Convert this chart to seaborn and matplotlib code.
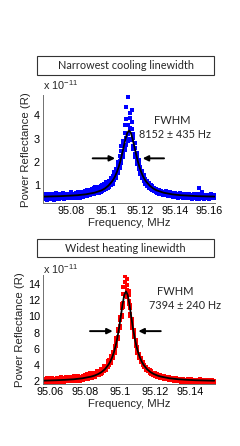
import matplotlib
matplotlib.use("Agg")
import matplotlib.pyplot as plt
import matplotlib.patches as mp
import pandas as pd
import seaborn as sns

# ---------------------------------------------------------------
# data (reflectance in units of 1e-11)
top_freq = [95.063, 95.064, 95.065, 95.066, 95.067, 95.068, 95.069, 95.070, 95.071, 95.072,
            95.073, 95.074, 95.075, 95.076, 95.077, 95.078, 95.079, 95.080, 95.081, 95.082,
            95.083, 95.084, 95.085, 95.086, 95.087, 95.088, 95.089, 95.090, 95.091, 95.092,
            95.093, 95.094, 95.095, 95.096, 95.097, 95.098, 95.099, 95.100, 95.101, 95.102,
            95.103, 95.104, 95.105, 95.106, 95.107, 95.108, 95.109, 95.110, 95.111, 95.112,
            95.113, 95.114, 95.115, 95.116, 95.117, 95.118, 95.119, 95.120, 95.121, 95.122,
            95.123, 95.124, 95.125, 95.126, 95.127, 95.128, 95.129, 95.130, 95.131, 95.132,
            95.133, 95.134, 95.135, 95.136, 95.137, 95.138, 95.139, 95.140, 95.141, 95.142,
            95.143, 95.144, 95.145, 95.146, 95.147, 95.148, 95.149, 95.150, 95.151, 95.152,
            95.153, 95.154, 95.155, 95.156, 95.157, 95.158, 95.159, 95.160, 95.161, 95.162,
            95.163]
top_refl = [
    [0.42, 0.55, 0.61, 0.47], [0.58, 0.44, 0.50, 0.39], [0.47, 0.63, 0.53, 0.41], [0.52, 0.45, 0.60, 0.36],
    [0.49, 0.57, 0.43, 0.64], [0.55, 0.40, 0.48, 0.59], [0.44, 0.62, 0.51, 0.46], [0.57, 0.50, 0.38, 0.53],
    [0.48, 0.66, 0.45, 0.55], [0.61, 0.42, 0.52, 0.47], [0.50, 0.58, 0.41, 0.63], [0.45, 0.54, 0.60, 0.49],
    [0.56, 0.43, 0.51, 0.67], [0.47, 0.59, 0.52, 0.40], [0.62, 0.49, 0.55, 0.44], [0.51, 0.64, 0.46, 0.57],
    [0.58, 0.45, 0.61, 0.50], [0.48, 0.56, 0.69, 0.43], [0.60, 0.52, 0.47, 0.58], [0.45, 0.63, 0.54, 0.50],
    [0.59, 0.48, 0.66, 0.53], [0.52, 0.70, 0.47, 0.61], [0.63, 0.50, 0.57, 0.46], [0.55, 0.67, 0.49, 0.72],
    [0.60, 0.51, 0.68, 0.56], [0.53, 0.74, 0.62, 0.57], [0.66, 0.55, 0.78, 0.60], [0.58, 0.70, 0.64, 0.81],
    [0.69, 0.57, 0.76, 0.62], [0.61, 0.84, 0.68, 0.73], [0.75, 0.62, 0.88, 0.70], [0.66, 0.80, 0.73, 0.93],
    [0.78, 0.65, 0.86, 0.72], [0.70, 0.91, 0.79, 0.66], [0.83, 0.72, 0.97, 0.79], [0.76, 0.93, 0.84, 1.02],
    [0.90, 0.78, 1.05, 0.86], [0.84, 1.01, 0.93, 1.12], [1.03, 0.88, 1.15, 0.97], [0.94, 1.20, 1.06, 0.99],
    [1.18, 1.02, 1.31, 1.09], [1.12, 1.38, 1.25, 1.05], [1.45, 1.24, 1.58, 1.30], [1.39, 1.70, 1.55, 1.32],
    [1.85, 1.60, 2.02, 1.53], [1.80, 2.25, 2.05, 1.72], [2.48, 2.10, 2.70, 1.95], [2.35, 2.90, 2.75, 2.20],
    [3.25, 2.70, 3.60, 2.50], [3.05, 3.85, 4.35, 2.75], [3.60, 4.80, 3.20, 2.90], [4.10, 3.45, 3.00, 3.90],
    [3.70, 2.95, 3.40, 4.25], [2.70, 3.20, 2.55, 3.05], [2.80, 2.35, 2.60, 2.20], [2.05, 2.40, 2.25, 1.90],
    [2.10, 1.80, 1.95, 1.70], [1.55, 1.80, 1.62, 1.48], [1.60, 1.38, 1.52, 1.30], [1.25, 1.42, 1.20, 1.36],
    [1.28, 1.12, 1.22, 1.05], [1.02, 1.15, 0.98, 1.20], [1.08, 0.93, 1.04, 0.88], [0.88, 1.00, 0.92, 0.83],
    [0.95, 0.82, 0.90, 0.78], [0.79, 0.88, 0.74, 0.85], [0.84, 0.72, 0.81, 0.70], [0.71, 0.80, 0.68, 0.76],
    [0.78, 0.66, 0.73, 0.64], [0.67, 0.75, 0.62, 0.70], [0.72, 0.60, 0.68, 0.58], [0.63, 0.71, 0.57, 0.66],
    [0.69, 0.56, 0.64, 0.74], [0.58, 0.67, 0.53, 0.62], [0.66, 0.55, 0.71, 0.60], [0.57, 0.64, 0.52, 0.68],
    [0.63, 0.54, 0.60, 0.49], [0.55, 0.66, 0.51, 0.59], [0.61, 0.48, 0.57, 0.64], [0.52, 0.62, 0.46, 0.56],
    [0.60, 0.50, 0.65, 0.54], [0.49, 0.58, 0.53, 0.62], [0.56, 0.45, 0.60, 0.51], [0.47, 0.61, 0.54, 0.43],
    [0.59, 0.50, 0.57, 0.64], [0.52, 0.44, 0.62, 0.48], [0.57, 0.49, 0.43, 0.60], [0.46, 0.58, 0.52, 0.41],
    [0.61, 0.47, 0.55, 0.50], [0.44, 0.53, 0.59, 0.48], [0.56, 0.42, 0.51, 0.62], [0.49, 0.88, 0.40, 0.54],
    [0.52, 0.44, 0.61, 0.47], [0.58, 0.50, 0.45, 0.73], [0.46, 0.55, 0.51, 0.40], [0.53, 0.43, 0.58, 0.49],
    [0.50, 0.60, 0.44, 0.55], [0.41, 0.52, 0.57, 0.47], [0.55, 0.48, 0.62, 0.43], [0.47, 0.59, 0.51, 0.45],
    [0.52, 0.44, 0.56, 0.49]]

top_fit_freq = [95.0635, 95.0685, 95.0735, 95.0785, 95.0835, 95.0885, 95.0935, 95.0955, 95.0975, 95.0995,
                95.1015, 95.1035, 95.1045, 95.1055, 95.1065, 95.1075, 95.1085, 95.1095, 95.1105, 95.1115,
                95.1125, 95.1135, 95.1145, 95.1155, 95.1165, 95.1175, 95.1185, 95.1195, 95.1205, 95.1215,
                95.1225, 95.1235, 95.1255, 95.1275, 95.1295, 95.1315, 95.1335, 95.1385, 95.1435, 95.1485,
                95.1535, 95.1585, 95.1635]
top_fit_refl = [0.51, 0.52, 0.53, 0.55, 0.57, 0.61, 0.68, 0.73, 0.78, 0.86,
                0.98, 1.15, 1.26, 1.40, 1.58, 1.79, 2.05, 2.36, 2.69, 3.01,
                3.26, 3.35, 3.26, 3.01, 2.69, 2.36, 2.05, 1.79, 1.58, 1.40,
                1.26, 1.15, 0.98, 0.86, 0.78, 0.73, 0.68, 0.61, 0.57, 0.55,
                0.53, 0.52, 0.51]

bot_freq = [95.056, 95.057, 95.058, 95.059, 95.060, 95.061, 95.062, 95.063, 95.064, 95.065,
            95.066, 95.067, 95.068, 95.069, 95.070, 95.071, 95.072, 95.073, 95.074, 95.075,
            95.076, 95.077, 95.078, 95.079, 95.080, 95.081, 95.082, 95.083, 95.084, 95.085,
            95.086, 95.087, 95.088, 95.089, 95.090, 95.091, 95.092, 95.093, 95.094, 95.095,
            95.096, 95.097, 95.098, 95.099, 95.100, 95.101, 95.102, 95.103, 95.104, 95.105,
            95.106, 95.107, 95.108, 95.109, 95.110, 95.111, 95.112, 95.113, 95.114, 95.115,
            95.116, 95.117, 95.118, 95.119, 95.120, 95.121, 95.122, 95.123, 95.124, 95.125,
            95.126, 95.127, 95.128, 95.129, 95.130, 95.131, 95.132, 95.133, 95.134, 95.135,
            95.136, 95.137, 95.138, 95.139, 95.140, 95.141, 95.142, 95.143, 95.144, 95.145,
            95.146, 95.147, 95.148, 95.149, 95.150, 95.151, 95.152, 95.153, 95.154]
bot_refl = [
    [1.85, 2.20, 1.98, 2.32], [2.10, 1.78, 2.25, 1.95], [1.92, 2.35, 2.05, 1.72], [2.22, 1.88, 2.12, 2.40],
    [1.80, 2.08, 1.95, 2.28], [2.15, 1.90, 2.38, 2.02], [1.96, 2.26, 1.83, 2.10], [2.30, 2.00, 2.18, 1.86],
    [2.05, 2.42, 1.94, 2.21], [1.89, 2.15, 2.33, 2.02], [2.24, 1.97, 2.09, 2.45], [2.01, 2.30, 1.88, 2.16],
    [2.36, 2.07, 2.22, 1.93], [2.12, 2.48, 2.00, 2.27], [1.98, 2.20, 2.41, 2.09], [2.31, 2.03, 2.17, 2.55],
    [2.08, 2.39, 1.96, 2.24], [2.45, 2.14, 2.30, 2.02], [2.19, 2.58, 2.08, 2.36], [2.06, 2.29, 2.50, 2.18],
    [2.40, 2.12, 2.27, 2.66], [2.17, 2.49, 2.05, 2.33], [2.56, 2.22, 2.41, 2.15], [2.28, 2.68, 2.19, 2.47],
    [2.21, 2.43, 2.72, 2.33], [2.62, 2.30, 2.51, 2.85], [2.39, 2.70, 2.27, 2.57], [2.74, 2.41, 2.60, 2.95],
    [2.50, 2.82, 2.44, 2.68], [2.88, 2.52, 2.73, 3.05], [2.62, 2.95, 2.80, 2.55], [3.05, 2.70, 2.90, 3.25],
    [2.82, 3.15, 2.98, 2.75], [3.30, 2.92, 3.12, 3.50], [3.08, 3.45, 3.28, 3.00], [3.65, 3.22, 3.48, 3.90],
    [3.45, 3.85, 3.70, 3.35], [4.20, 3.70, 4.00, 4.45], [4.05, 4.60, 4.35, 3.95], [5.05, 4.45, 4.80, 4.30],
    [5.00, 5.60, 5.30, 4.85], [6.35, 5.60, 6.10, 5.50], [6.50, 7.30, 6.95, 6.30], [8.50, 7.50, 8.20, 7.20],
    [8.80, 9.90, 9.50, 8.60], [11.50, 10.20, 11.10, 9.90], [12.80, 11.60, 13.60, 11.20], [14.30, 12.50, 13.70, 15.00],
    [13.30, 14.60, 12.40, 13.90], [12.70, 11.50, 13.20, 11.90], [10.30, 11.40, 10.00, 11.00], [9.70, 8.90, 9.40, 8.60],
    [7.60, 8.30, 7.40, 8.00], [7.10, 6.50, 6.90, 6.30], [5.70, 6.20, 5.50, 6.00], [5.40, 4.95, 5.25, 4.85],
    [4.50, 4.85, 4.40, 4.75], [4.40, 4.05, 4.30, 3.95], [3.75, 4.05, 3.70, 3.95], [3.80, 3.45, 3.65, 3.35],
    [3.25, 3.55, 3.20, 3.45], [3.35, 3.05, 3.28, 3.00], [2.95, 3.20, 2.88, 3.12], [3.05, 2.80, 2.98, 2.75],
    [2.70, 2.95, 2.65, 2.88], [2.85, 2.60, 2.80, 2.55], [2.55, 2.78, 2.50, 2.72], [2.70, 2.45, 2.65, 2.42],
    [2.42, 2.64, 2.38, 2.58], [2.60, 2.36, 2.55, 2.31], [2.33, 2.52, 2.28, 2.49], [2.50, 2.29, 2.46, 2.22],
    [2.26, 2.48, 2.20, 2.42], [2.44, 2.18, 2.39, 2.14], [2.21, 2.41, 2.12, 2.35], [2.38, 2.10, 2.30, 2.06],
    [2.15, 2.35, 2.05, 2.28], [2.30, 2.04, 2.24, 1.98], [2.09, 2.31, 1.97, 2.20], [2.26, 1.99, 2.18, 1.92],
    [2.03, 2.24, 1.90, 2.15], [2.20, 1.94, 2.12, 1.86], [1.98, 2.18, 1.85, 2.09], [2.14, 1.89, 2.06, 2.27],
    [1.93, 2.12, 1.82, 2.03], [2.10, 1.87, 2.22, 1.96], [1.88, 2.06, 1.79, 2.16], [2.05, 1.84, 2.00, 2.19],
    [1.90, 2.13, 1.81, 2.02], [2.08, 1.86, 2.17, 1.95], [1.84, 2.03, 1.92, 2.21], [2.11, 1.89, 1.99, 1.78],
    [1.93, 2.15, 1.83, 2.04], [2.07, 1.80, 2.12, 1.91], [1.86, 2.01, 1.94, 2.18], [2.09, 1.85, 2.03, 1.76],
    [1.91, 2.14, 1.82, 2.00], [2.04, 1.88, 2.10, 1.93], [1.87, 2.06, 1.96, 1.79]]

bot_fit_freq = [95.056, 95.0635, 95.0685, 95.0735, 95.0785, 95.0835, 95.0855, 95.0875, 95.0895, 95.0915,
                95.0935, 95.0945, 95.0955, 95.0965, 95.0975, 95.0985, 95.0995, 95.1005, 95.1015, 95.1025,
                95.1035, 95.1045, 95.1055, 95.1065, 95.1075, 95.1085, 95.1095, 95.1105, 95.1115, 95.1125,
                95.1135, 95.1155, 95.1175, 95.1195, 95.1215, 95.1235, 95.1285, 95.1335, 95.1385, 95.1435,
                95.154]
bot_fit_refl = [2.06, 2.11, 2.16, 2.23, 2.35, 2.56, 2.69, 2.87, 3.12, 3.49,
                4.04, 4.42, 4.90, 5.52, 6.30, 7.30, 8.53, 9.97, 11.45, 12.64,
                13.10, 12.64, 11.45, 9.97, 8.53, 7.30, 6.30, 5.52, 4.90, 4.42,
                4.04, 3.49, 3.12, 2.87, 2.69, 2.56, 2.35, 2.23, 2.16, 2.11,
                2.05]

top_title = "Narrowest cooling linewidth"
bot_title = "Widest heating linewidth"
top_fwhm = "8152 ± 435 Hz"
bot_fwhm = "7394 ± 240 Hz"
top_xticks = [95.08, 95.1, 95.12, 95.14, 95.16]
bot_xticks = [95.06, 95.08, 95.1, 95.12, 95.14]
top_yticks = [1, 2, 3, 4]
bot_yticks = [2, 4, 6, 8, 10, 12, 14]


def to_frame(freq, refl):
    df = pd.DataFrame({"freq": freq, "refl": refl}).explode("refl")
    df["refl"] = df["refl"].astype(float)
    return df


# ---------------------------------------------------------------
sns.set_theme(style="white")
plt.rcParams["font.family"] = ["Liberation Sans", "DejaVu Sans"]
plt.rcParams["mathtext.fontset"] = "custom"
plt.rcParams["mathtext.rm"] = "Liberation Sans"

fig = plt.figure(figsize=(2.4, 4.46), dpi=100)
ax1 = fig.add_axes([0.178, 0.544, 0.718, 0.243])
ax2 = fig.add_axes([0.178, 0.138, 0.718, 0.245])

panels = [
    (ax1, top_freq, top_refl, top_fit_freq, top_fit_refl, "#0000ff", top_xticks, top_yticks,
     (95.0634, 95.1634), (0.22, 4.88)),
    (ax2, bot_freq, bot_refl, bot_fit_freq, bot_fit_refl, "#ff0000", bot_xticks, bot_yticks,
     (95.0558, 95.1545), (1.59, 15.1)),
]

for ax, fr, rf, ffr, frf, col, xt, yt, xl, yl in panels:
    pts = to_frame(fr, rf)
    sns.scatterplot(data=pts, x="freq", y="refl", ax=ax, color=col, marker="s",
                    s=5, linewidth=0, legend=False)
    fit = pd.DataFrame({"freq": ffr, "refl": frf})
    sns.lineplot(data=fit, x="freq", y="refl", ax=ax, color="black", lw=1.3,
                 estimator=None, sort=False)
    ax.set_xlim(*xl)
    ax.set_ylim(*yl)
    ax.set_xticks(xt)
    ax.set_xticklabels([("%g" % v) for v in xt])
    ax.set_yticks(yt)
    ax.tick_params(labelsize=7.8, direction="in", length=2, width=0.6, pad=2, colors="black")
    for s in ["top", "right"]:
        ax.spines[s].set_visible(False)
    for s in ["left", "bottom"]:
        ax.spines[s].set_color("#707070")
        ax.spines[s].set_linewidth(0.7)
    ax.set_xlabel("Frequency, MHz", fontsize=8.2, labelpad=1)
    ax.set_ylabel("Power Reflectance (R)", fontsize=8.2, labelpad=2)
    ax.patch.set_alpha(0)

# multiplier labels
ax1.text(0.0, 1.025, r"x 10$^{-11}$", transform=ax1.transAxes, fontsize=7.8, va="bottom", ha="left")
ax2.text(0.0, 0.995, r"x 10$^{-11}$", transform=ax2.transAxes, fontsize=7.8, va="bottom", ha="left")

# FWHM annotations
ax1.text(0.75, 0.769, "FWHM", transform=ax1.transAxes, fontsize=8, family="Lato", ha="center", va="center")
ax1.text(0.768, 0.639, top_fwhm, transform=ax1.transAxes, fontsize=7.8, family="Lato", ha="center", va="center")
ax2.text(0.768, 0.854, "FWHM", transform=ax2.transAxes, fontsize=8, family="Lato", ha="center", va="center")
ax2.text(0.826, 0.720, bot_fwhm, transform=ax2.transAxes, fontsize=7.8, family="Lato", ha="center", va="center")

aprops = dict(arrowstyle="-|>", lw=1.4, color="black", mutation_scale=8, shrinkA=0, shrinkB=0)
ax1.annotate("", xy=(0.420, 0.4155), xytext=(0.290, 0.4155), xycoords="axes fraction", arrowprops=aprops)
ax1.annotate("", xy=(0.580, 0.4155), xytext=(0.704, 0.4155), xycoords="axes fraction", arrowprops=aprops)
ax2.annotate("", xy=(0.406, 0.488), xytext=(0.2745, 0.488), xycoords="axes fraction", arrowprops=aprops)
ax2.annotate("", xy=(0.555, 0.488), xytext=(0.685, 0.488), xycoords="axes fraction", arrowprops=aprops)

# boxed titles
for y0, h, ttl in [(0.8318, 0.0426, top_title), (0.4231, 0.0400, bot_title)]:
    fig.patches.append(mp.Rectangle((0.155, y0), 0.7375, h, transform=fig.transFigure,
                                    fill=False, edgecolor="#333333", lw=0.8))
    fig.text(0.524, y0 + h / 2, ttl, fontsize=7.8, family="Lato", ha="center", va="center")

fig.savefig("out.png", dpi=100)
